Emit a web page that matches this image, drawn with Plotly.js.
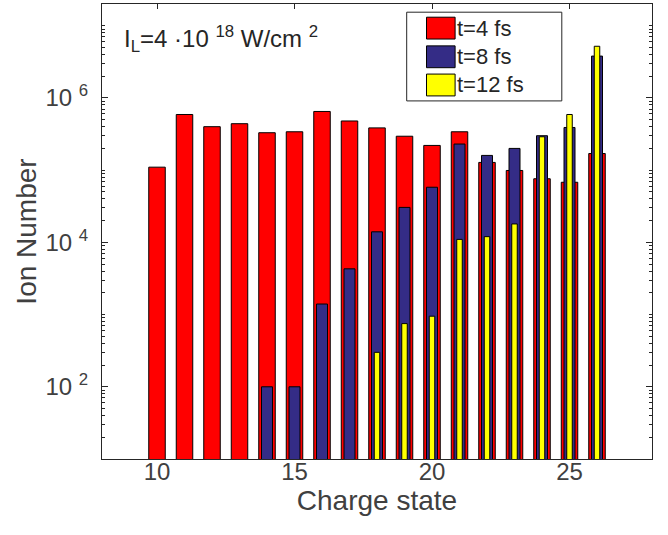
<!DOCTYPE html>
<html>
<head>
<meta charset="utf-8">
<script src="https://cdn.plot.ly/plotly-3.0.1.min.js"></script>
<style>html,body{margin:0;padding:0;background:#fff;}#chart{width:668px;height:535px;}</style>
</head>
<body>
<div id="chart"></div>
<script>
// ---- data ----
const chargeStates = [10, 11, 12, 13, 14, 15, 16, 17, 18, 19, 20, 21, 22, 23, 24, 25, 26];
const ionsT4  = [1.1e5, 5.9e5, 4.0e5, 4.4e5, 3.3e5, 3.4e5, 6.5e5, 4.8e5, 3.85e5, 2.95e5, 2.2e5, 3.4e5, 1.28e5, 9.9e4, 7.6e4, 6.8e4, 1.7e5];
const ionsT8  = [null, null, null, null, 100, 100, 1.4e3, 4.3e3, 1.4e4, 3.05e4, 5.8e4, 2.3e5, 1.6e5, 2.0e5, 3.0e5, 3.9e5, 3.8e6];
const ionsT12 = [null, null, null, null, null, null, null, null, 300, 750, 950, 1.1e4, 1.2e4, 1.8e4, 2.9e5, 5.9e5, 5.2e6];
const seriesNames = ["t=4 fs", "t=8 fs", "t=12 fs"];
const xTickVals = [10, 15, 20, 25];
const yLabelVals = [100, 1e4, 1e6];
const yLabelText = ["10 <sup>2</sup>", "10 <sup>4</sup>", "10 <sup>6</sup>"];
const annotationText = "I<sub>L</sub>=4 ·10 <sup>18</sup> W/cm <sup>2</sup>";

const colors = ["#FF0000", "#342C86", "#FFFF00"];
const widths = [0.6, 0.4, 0.2];
const seriesData = [ionsT4, ionsT8, ionsT12];

const traces = seriesData.map((vals, i) => ({
  type: "bar",
  x: chargeStates,
  y: vals,
  name: seriesNames[i],
  width: widths[i],
  marker: {color: colors[i], line: {color: "#000000", width: 1}},
  showlegend: false
}));

// minor ticks: 2..9 of each decade plus the unlabeled decades
const minorVals = [];
for (let d = 1; d <= 7; d++) {
  for (let m = 1; m <= 9; m++) {
    const v = m * Math.pow(10, d);
    if (m === 1 && d % 2 === 0) continue;
    if (v <= 2e7) minorVals.push(v);
  }
}

const axisColor = "#262626";
const textColor = "#404040";
const fontFam = "Liberation Sans, Arial, Helvetica, sans-serif";

// custom legend (MATLAB-style large swatches)
const shapes = [{
  type: "rect", xref: "paper", yref: "paper",
  x0: 0.554, x1: 0.836, y0: 0.787, y1: 0.982,
  line: {color: "#262626", width: 1}, fillcolor: "#ffffff", layer: "above"
}];
const annotations = [{
  xref: "paper", yref: "paper", x: 0.036, y: 0.922, xanchor: "left", yanchor: "middle",
  text: annotationText, showarrow: false, font: {family: fontFam, size: 24, color: "#262626"}
}];
const rowY = [0.947, 0.884, 0.822];
seriesNames.forEach((nm, i) => {
  shapes.push({
    type: "rect", xref: "paper", yref: "paper",
    x0: 0.590, x1: 0.642, y0: rowY[i] - 0.024, y1: rowY[i] + 0.024,
    line: {color: "#000000", width: 1}, fillcolor: colors[i], layer: "above"
  });
  annotations.push({
    xref: "paper", yref: "paper", x: 0.642, y: rowY[i], xanchor: "left", yanchor: "middle",
    text: nm, showarrow: false, font: {family: fontFam, size: 22, color: "#262626"}
  });
});

const layout = {
  width: 668, height: 535,
  margin: {l: 102, r: 16, t: 4, b: 76},
  paper_bgcolor: "#ffffff", plot_bgcolor: "#ffffff",
  barmode: "overlay",
  bargap: 0,
  font: {family: fontFam, color: textColor},
  xaxis: {
    range: [8, 28], tickmode: "array", tickvals: xTickVals, ticks: "inside", ticklen: 5, tickcolor: axisColor,
    showline: true, linecolor: axisColor, linewidth: 1, mirror: "ticks",
    showgrid: false, zeroline: false, layer: "below traces",
    ticklabelstandoff: -9,
    tickfont: {size: 24, color: textColor},
    title: {text: "Charge state", font: {size: 28, color: textColor}, standoff: 0}
  },
  yaxis: {
    type: "log", range: [1, Math.log10(2e7)],
    tickmode: "array", tickvals: yLabelVals, ticktext: yLabelText,
    ticks: "inside", ticklen: 6, tickcolor: axisColor,
    minor: {tickmode: "array", tickvals: minorVals, ticks: "inside", ticklen: 3, tickcolor: axisColor, showgrid: false},
    showline: true, linecolor: axisColor, linewidth: 1, mirror: "ticks",
    showgrid: false, zeroline: false,
    ticklabelstandoff: 8,
    tickfont: {size: 24, color: textColor},
    title: {text: "Ion Number", font: {size: 28, color: textColor}, standoff: 0}
  },
  shapes: shapes,
  annotations: annotations
};

Plotly.newPlot("chart", traces, layout, {staticPlot: true, displayModeBar: false});
</script>
</body>
</html>
